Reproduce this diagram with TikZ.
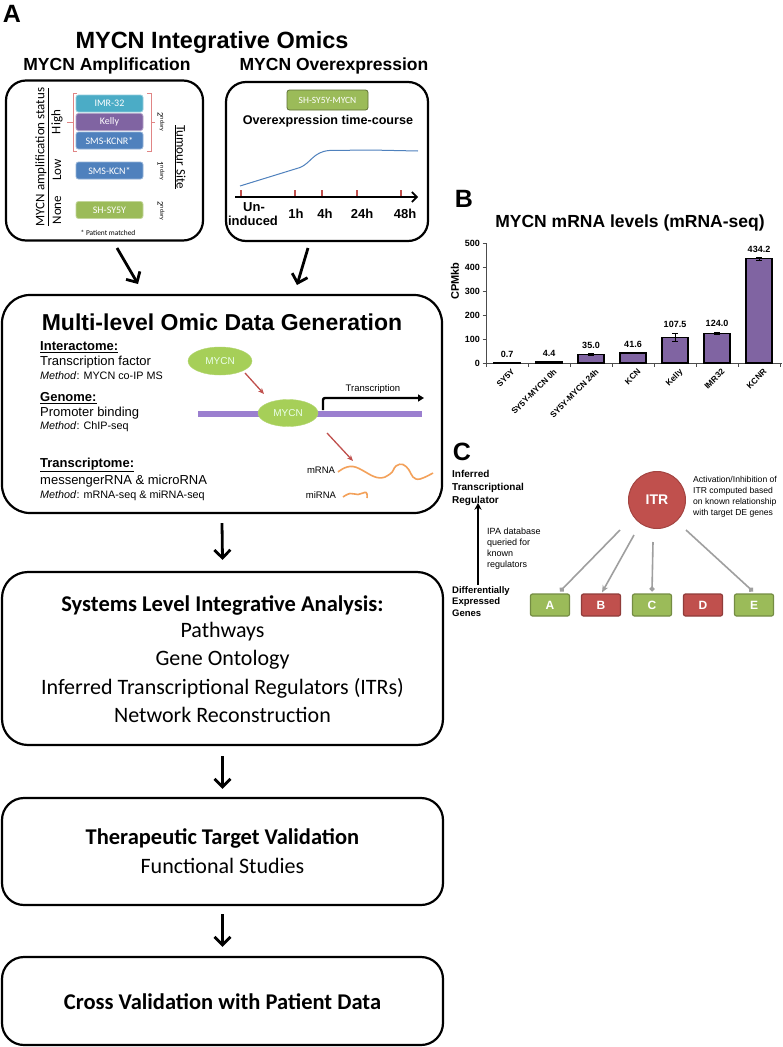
\documentclass[tikz,border=0pt]{standalone}
\usepackage{fontspec}
\setmainfont{Liberation Sans}
\newfontfamily\calib{Carlito}
\usetikzlibrary{arrows.meta,shapes.geometric,calc}
\definecolor{cteal}{HTML}{4BACC6}
\definecolor{cpurp}{HTML}{8064A2}
\definecolor{cblue}{HTML}{4F81BD}
\definecolor{cgreen}{HTML}{9BBB59}
\definecolor{cred}{HTML}{C0504D}
\definecolor{corange}{HTML}{F3A15A}
\definecolor{cdna}{HTML}{9B7FCF}
\definecolor{cellip}{HTML}{A6CF58}
\definecolor{cbrack}{HTML}{E08585}
\definecolor{ccurve}{HTML}{4F81BD}
\newcommand\fsz[2]{\fontsize{#1}{#2}\selectfont}
\begin{document}
\begin{tikzpicture}[x=1pt,y=-1pt,
  panel/.style={draw=black,line width=2.2pt,rounded corners=20pt,inner sep=0pt},
  bigpanel/.style={draw=black,line width=2.2pt,rounded corners=26pt,inner sep=0pt,minimum width=441pt},
  cell/.style={rounded corners=2.5pt,minimum width=67pt,minimum height=17pt,inner sep=0pt,text=white,font=\calib\fsz{10}{12},line width=0.8pt},
  flow/.style={line width=2.8pt,-{Straight Barb[length=8pt,width=16pt]}},
  calibtxt/.style={font=\calib\fsz{13}{15},inner sep=0pt},
  ndary/.style={font=\calib\fsz{8.5}{9},rotate=-90,inner sep=0pt},
  lefttxt/.style={anchor=west,inner sep=0pt,font=\fsz{13}{15}},
  methodtxt/.style={anchor=west,inner sep=0pt,font=\fsz{10.8}{13}},
  mycn/.style={ellipse,fill=cellip,draw=cellip!85!white,inner sep=0pt,text=white!92!green,font=\fsz{10}{12}},
  redarr/.style={draw=cred,line width=1.3pt,-{Stealth[length=6pt,width=5pt]}},
  wave/.style={draw=corange,line width=1.6pt},
  sysline/.style={font=\calib\fsz{22}{26},inner sep=0pt},
  systitle/.style={font=\calib\bfseries\fsz{22.5}{26},inner sep=0pt},
  panelletter/.style={font=\bfseries\fsz{25}{28},inner sep=0pt},
  gene/.style={rounded corners=2pt,minimum width=39pt,minimum height=22pt,inner sep=0pt,text=white,font=\bfseries\fsz{12}{14},line width=1.2pt},
  glink/.style={draw=gray!75,line width=1.6pt},
]
\useasboundingbox (0,0) rectangle (783,1047);
\fill[white] (0,0) rectangle (783,1047);

% ---------- Panel A header
\node[panelletter] (letA) at (12,14) {A};
\node[font=\bfseries\fsz{23.5}{26},inner sep=0pt] (maintitle) at (212,42) {MYCN Integrative Omics};
\node[font=\bfseries\fsz{17.5}{20},inner sep=0pt] (amptitle) at (107,66) {MYCN Amplification};
\node[font=\bfseries\fsz{17.5}{20},inner sep=0pt] (ovtitle) at (334,66) {MYCN Overexpression};

% ---------- Amplification box
\node[panel,minimum width=197pt,minimum height=160pt] (ampbox) at (104.5,160.5) {};
\node[calibtxt,rotate=90] (ampstat) at (42,157) {\underline{MYCN amplification status}};
\node[calibtxt,rotate=90] (high) at (57,122) {High};
\node[calibtxt,rotate=90] (low) at (57,170) {Low};
\node[calibtxt,rotate=90] (none) at (57,210) {None};
\node[cell,fill=cteal,draw=cteal!60!white] (imr) at (109.5,103.5) {IMR-32};
\node[cell,fill=cpurp,draw=cpurp!60!white] (kelly) at (109.5,122) {Kelly};
\node[cell,fill=cblue,draw=cblue!60!white] (kcnr) at (109.5,140.5) {SMS-KCNR*};
\node[cell,fill=cblue,draw=cblue!60!white] (kcn) at (109.5,170.5) {SMS-KCN*};
\node[cell,fill=cgreen,draw=cgreen!60!white] (shsy) at (109.5,210) {SH-SY5Y};
\draw[cbrack,line width=0.7pt] (77,93.5) -- (73,93.5) -- (73,151.5) -- (77,151.5);
\draw[cbrack,line width=0.7pt] (73,122) -- (67,122);
\draw[cbrack,line width=0.7pt] (147,93.5) -- (151,93.5) -- (151,151.5) -- (147,151.5);
\draw[cbrack,line width=0.7pt] (151,122) -- (155,122);
\node[ndary] (nd1) at (161,122) {2\textsuperscript{ndary}};
\node[ndary] (nd2) at (161,171) {1\textsuperscript{ndary}};
\node[ndary] (nd3) at (161,211) {2\textsuperscript{ndary}};
\node[calibtxt,rotate=-90] (tsite) at (180,157) {\underline{Tumour Site}};
\node[font=\calib\fsz{7.4}{9},inner sep=0pt] (patm) at (108,233) {* Patient matched};

% ---------- Overexpression box
\node[panel,minimum width=202pt,minimum height=159pt] (ovbox) at (327,161.5) {};
\node[cell,fill=cgreen,draw=cgreen!60!black,minimum width=81pt,minimum height=20pt,font=\calib\fsz{9.5}{11}] (shmycn) at (327.5,100) {SH-SY5Y-MYCN};
\node[font=\bfseries\fsz{12.6}{14},inner sep=0pt] (otc) at (328,121) {Overexpression time-course};
\draw[ccurve,line width=1pt] (240,186) -- (300,167.5) .. controls (311,163) and (313,152) .. (329,150.5) -- (370,150) -- (418,151);
\coordinate (axL) at (235,197);
\coordinate (axR) at (418,197);
\foreach \tx in {241,295,322,357,401} \draw[cred,line width=1.2pt] (\tx,190) -- (\tx,196);
\draw[line width=1.6pt,-{Straight Barb[length=5pt,width=10pt]}] (axL) -- (axR);
\node[font=\bfseries\fsz{13}{14},inner sep=0pt] (tun) at (254,207) {Un-};
\node[font=\bfseries\fsz{13}{14},inner sep=0pt] (tind) at (253,221) {induced};
\node[font=\bfseries\fsz{13}{14},inner sep=0pt] (t1h) at (296,214) {1h};
\node[font=\bfseries\fsz{13}{14},inner sep=0pt] (t4h) at (325,214) {4h};
\node[font=\bfseries\fsz{13}{14},inner sep=0pt] (t24) at (362,214) {24h};
\node[font=\bfseries\fsz{13}{14},inner sep=0pt] (t48) at (405,214) {48h};

% ---------- Multi-level box
\node[bigpanel,minimum width=440pt,minimum height=218pt,rounded corners=28pt] (multibox) at (222,404) {};
\coordinate (a1s) at (117,248);
\coordinate (a1e) at (138,284);
\coordinate (a2s) at (308,248);
\coordinate (a2e) at (297,285);
\draw[flow] (a1s) -- (a1e);
\draw[flow] (a2s) -- (a2e);
\node[font=\bfseries\fsz{23}{26},inner sep=0pt] (multititle) at (222,322) {Multi-level Omic Data Generation};
\node[lefttxt,font=\bfseries\fsz{13}{15}] (inter) at (40,347) {\underline{Interactome:}};
\node[lefttxt] (tf) at (40,362) {Transcription factor};
\node[methodtxt] (m1) at (40,376) {\textit{Method}: MYCN co-IP MS};
\node[lefttxt,font=\bfseries\fsz{13}{15}] (geno) at (40,398) {\underline{Genome:}};
\node[lefttxt] (pb) at (40,413) {Promoter binding};
\node[methodtxt] (m2) at (40,427) {\textit{Method}: ChIP-seq};
\node[lefttxt,font=\bfseries\fsz{13}{15}] (trans) at (40,465) {\underline{Transcriptome:}};
\node[lefttxt] (mm) at (40,481) {messengerRNA \& microRNA};
\node[methodtxt] (m3) at (40,496) {\textit{Method}: mRNA-seq \& miRNA-seq};
% diagram
\node[mycn,minimum width=64pt,minimum height=28pt] (mycn1) at (220,361) {MYCN};
\coordinate (dnaL) at (198,414);
\coordinate (dnaR) at (422,414);
\draw[cdna,line width=6pt] (dnaL) -- (dnaR);
\node[mycn,minimum width=60pt,minimum height=27pt] (mycn2) at (288,413) {MYCN};
\coordinate (r1s) at (245,373);
\coordinate (r1e) at (264,394);
\draw[redarr] (r1s) -- (r1e);
\coordinate (trs) at (323,410);
\coordinate (tre) at (424,398);
\draw[line width=2.4pt,rounded corners=2pt,-{Triangle[length=6pt,width=7pt]}] (trs) |- (tre);
\node[font=\fsz{9.5}{11},inner sep=0pt] (trlab) at (373,389) {Transcription};
\coordinate (r2s) at (327,433);
\coordinate (r2e) at (353,461);
\draw[redarr] (r2s) -- (r2e);
\node[font=\fsz{9.5}{11},inner sep=0pt] (mrnalab) at (321,470) {mRNA};
\node[font=\fsz{9.5}{11},inner sep=0pt] (mirnalab) at (321,495) {miRNA};
\draw[wave] plot[smooth,tension=0.7] coordinates {(338,472) (353,466.5) (377,477.5) (390,474) (396,466) (403,464.5) (409,470) (413,477) (420,479) (433,473)};
\draw[wave] plot[smooth,tension=0.7] coordinates {(343,497) (350,493.5) (358,494.5) (366,492.5) (367,498)};

% ---------- Systems box
\node[bigpanel,minimum height=173pt] (sysbox) at (222.5,658.5) {};
\draw[flow] ($(multibox.south)+(0,9)$) -- ($(sysbox.north)+(0,-11)$);
\node[systitle] (systitle) at (222.5,605) {Systems Level Integrative Analysis:};
\node[sysline] (pw) at (222.5,632) {Pathways};
\node[sysline] (go) at (222.5,660) {Gene Ontology};
\node[sysline] (itrs) at (222.5,688) {Inferred Transcriptional Regulators (ITRs)};
\node[sysline] (netr) at (222.5,715) {Network Reconstruction};

% ---------- Therapeutic box
\node[bigpanel,minimum height=107pt,rounded corners=22pt] (therbox) at (222.5,851.5) {};
\draw[flow] ($(sysbox.south)+(0,10)$) -- ($(therbox.north)+(0,-8)$);
\node[systitle] (thertitle) at (222.5,838) {Therapeutic Target Validation};
\node[sysline] (func) at (222.5,866) {Functional Studies};

% ---------- Cross validation box
\node[bigpanel,minimum height=88pt,rounded corners=22pt] (crossbox) at (222.5,1001) {};
\draw[flow] ($(therbox.south)+(0,8)$) -- ($(crossbox.north)+(0,-9)$);
\node[systitle] (crosstitle) at (222.5,1002) {Cross Validation with Patient Data};

% ---------- Panel B
\node[panelletter] (letB) at (464,199) {B};
\node[font=\bfseries\fsz{17.5}{20},inner sep=0pt] (btitle) at (630,223) {MYCN mRNA levels (mRNA-seq)};
\node[font=\bfseries\fsz{11}{12},rotate=90,inner sep=0pt] (cpm) at (455,281) {CPMkb};
\draw[gray!60!black,line width=0.8pt] (486,243) -- (486,363) -- (782,363);
\foreach \t in {0,100,200,300,400,500} {
  \draw[gray!60!black,line width=0.8pt] (482.5,363-0.24*\t) -- (486,363-0.24*\t);
  \node[anchor=east,font=\bfseries\fsz{9}{10},inner sep=0pt] (yt\t) at (480,363-0.24*\t) {\t};
}
\foreach \k in {0,...,7} \draw[gray!60!black,line width=0.8pt] (486+42*\k,363) -- (486+42*\k,366.5);
\foreach \i/\val/\e/\lab in {1/0.7/0/SY5Y,2/4.4/0/SY5Y-MYCN 0h,3/35.0/1.2/SY5Y-MYCN 24h,4/41.6/0/KCN,5/107.5/4/Kelly,6/124.0/1.2/IMR32,7/434.2/1.2/KCNR} {
  \pgfmathsetmacro\cx{465+42*\i}
  \pgfmathsetmacro\bt{363-0.24*\val}
  \draw[fill=cpurp,line width=1.1pt] (\cx-13,363) rectangle (\cx+13,\bt);
  \draw[line width=0.8pt] (\cx,\bt-\e) -- (\cx,\bt+\e) (\cx-3,\bt-\e) -- (\cx+3,\bt-\e) (\cx-3,\bt+\e) -- (\cx+3,\bt+\e);
  \node[anchor=south,font=\bfseries\fsz{9}{10},inner sep=0pt] (v\i) at (\cx,\bt-\e-5) {\val};
  \node[rotate=45,anchor=north east,font=\bfseries\fsz{8.3}{9},inner sep=0pt] (c\i) at (\cx+4,368) {\lab};
}

% ---------- Panel C
\node[panelletter] (letC) at (462,452) {C};
\node[anchor=north west,align=left,font=\bfseries\fsz{10}{13},inner sep=0pt] (itrlab) at (452,470) {Inferred\\Transcriptional\\Regulator};
\node[anchor=north west,align=left,font=\bfseries\fsz{9.5}{11.5},inner sep=0pt] (deglab) at (452,586) {Differentially\\Expressed\\Genes};
\coordinate (upx) at (478,0);
\draw[line width=1.5pt,-{Stealth[length=7pt,width=7pt]}] ($(deglab.north -| upx)+(0,-1)$) -- ($(itrlab.south -| upx)+(0,-3)$);
\node[anchor=north west,align=left,font=\fsz{9}{11},inner sep=0pt] (ipa) at (487,527.5) {IPA database\\queried for\\known\\regulators};
\node[circle,fill=cred,draw=cred!85!black,line width=1pt,minimum size=57pt,inner sep=0pt,text=white,font=\bfseries\fsz{14}{16}] (itr) at (657,500) {ITR};
\node[anchor=north west,align=left,font=\fsz{8.6}{11},inner sep=0pt] (actlab) at (693,476.5) {Activation/Inhibition of\\ITR computed based\\on known relationship\\with target DE genes};
\node[gene,fill=cgreen,draw=cgreen!75!black] (gA) at (550,605) {A};
\node[gene,fill=cred,draw=cred!75!black] (gB) at (601,605) {B};
\node[gene,fill=cgreen,draw=cgreen!75!black] (gC) at (652,605) {C};
\node[gene,fill=cred,draw=cred!75!black] (gD) at (703,605) {D};
\node[gene,fill=cgreen,draw=cgreen!75!black] (gE) at (754,605) {E};
\coordinate (sA) at (620,530);
\coordinate (sB) at (634,535);
\coordinate (sC) at (653,542);
\coordinate (sE) at (686,530);
\draw[glink,-{Circle[length=5pt]}] (sA) -- ($(gA.north)+(10,-2)$);
\draw[glink,-{Stealth[length=7pt,width=6pt]}] (sB) -- ($(gB.north)+(1,-1)$);
\draw[glink,-{Circle[length=5pt]}] (sC) -- ($(gC.north)+(0,-2)$);
\draw[glink,-{Circle[length=5pt]}] (sE) -- ($(gE.north)+(-1,-2)$);
\end{tikzpicture}
\end{document}
